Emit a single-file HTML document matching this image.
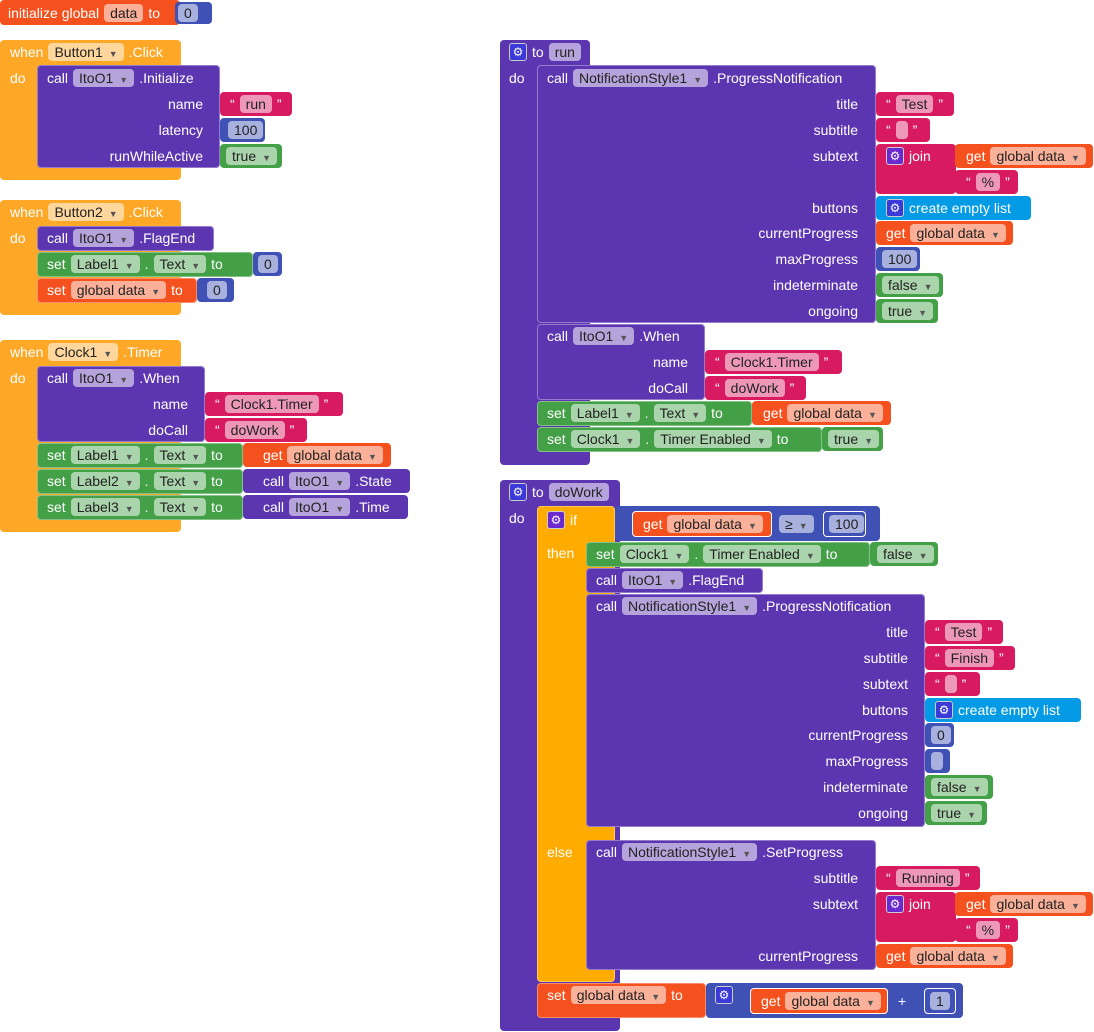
<!DOCTYPE html>
<html><head><meta charset="utf-8"><style>
body{margin:0;width:1094px;height:1032px;background:#fff;position:relative;overflow:hidden;font-family:"Liberation Sans",sans-serif}
.b{position:absolute;border-radius:4px}
.o{background:#ffa726}.y{background:#ffab00}.p{background:#5c35b0}.g{background:#43a047}.r{background:#f4511e}.k{background:#d81b60}.u{background:#3f51b5}.c{background:#039be5}
.i{box-shadow:inset 0 0 0 1px rgba(255,255,255,.35)}
.w{position:absolute;height:24px;display:flex;align-items:center;gap:5px;font-size:14px;color:#fff;white-space:nowrap}
.f{background:rgba(255,255,255,.55);color:#222;border-radius:4px;padding:0 6px;height:18px;line-height:18px;display:inline-block}
.f i{font-style:normal;font-size:9px;color:#555;margin-left:6px}
.R{position:absolute;width:220px;text-align:right;font-size:14px;color:#fff;height:24px;line-height:24px;white-space:nowrap}
.gr{display:inline-block;width:16px;height:16px;border:1px solid #ccc;border-radius:3px;background:#3a3ad8;color:#fff;font-size:12px;line-height:16px;text-align:center}
</style></head><body>

<!-- init global -->
<div class="b r" style="left:0;top:0;width:180px;height:25px"></div>
<div class="b u" style="left:175px;top:2px;width:37px;height:22px"></div>
<div class="w" style="left:8px;top:1px">initialize global <span class="f">data</span> to <span style="width:8px"></span><span class="f">0</span></div>

<!-- Button1 -->
<div class="b o" style="left:0;top:40px;width:181px;height:140px"></div>
<div class="w" style="left:10px;top:40px">when <span class="f">Button1<i>▼</i></span> .Click</div>
<div class="w" style="left:10px;top:66px">do</div>
<div class="b p i" style="left:37px;top:65px;width:183px;height:103px"></div>
<div class="w" style="left:47px;top:66px">call <span class="f">ItoO1<i>▼</i></span> .Initialize</div>
<div class="R" style="left:-17px;top:92px">name</div>
<div class="R" style="left:-17px;top:118px">latency</div>
<div class="R" style="left:-17px;top:144px">runWhileActive</div>
<div class="b k" style="left:220px;top:92px;width:72px;height:24px"></div>
<div class="w" style="left:230px;top:92px">“<span class="f">run</span>”</div>
<div class="b u" style="left:220px;top:118px;width:45px;height:24px"></div>
<div class="w" style="left:228px;top:118px"><span class="f">100</span></div>
<div class="b g" style="left:220px;top:144px;width:62px;height:24px"></div>
<div class="w" style="left:226px;top:144px"><span class="f">true<i>▼</i></span></div>

<!-- Button2 -->
<div class="b o" style="left:0;top:200px;width:181px;height:115px"></div>
<div class="w" style="left:10px;top:200px">when <span class="f">Button2<i>▼</i></span> .Click</div>
<div class="w" style="left:10px;top:226px">do</div>
<div class="b p i" style="left:37px;top:226px;width:177px;height:25px"></div>
<div class="w" style="left:47px;top:226px">call <span class="f">ItoO1<i>▼</i></span> .FlagEnd</div>
<div class="b g i" style="left:37px;top:252px;width:216px;height:25px"></div>
<div class="w" style="left:47px;top:252px">set <span class="f">Label1<i>▼</i></span> . <span class="f">Text<i>▼</i></span> to</div>
<div class="b u" style="left:253px;top:252px;width:29px;height:24px"></div>
<div class="w" style="left:258px;top:252px"><span class="f">0</span></div>
<div class="b r i" style="left:37px;top:278px;width:160px;height:25px"></div>
<div class="w" style="left:47px;top:278px">set <span class="f">global data<i>▼</i></span> to</div>
<div class="b u" style="left:197px;top:278px;width:37px;height:24px"></div>
<div class="w" style="left:207px;top:278px"><span class="f">0</span></div>

<!-- Clock1 -->
<div class="b o" style="left:0;top:340px;width:181px;height:192px"></div>
<div class="w" style="left:10px;top:340px">when <span class="f">Clock1<i>▼</i></span> .Timer</div>
<div class="w" style="left:10px;top:366px">do</div>
<div class="b p i" style="left:37px;top:366px;width:168px;height:76px"></div>
<div class="w" style="left:47px;top:366px">call <span class="f">ItoO1<i>▼</i></span> .When</div>
<div class="R" style="left:-32px;top:392px">name</div>
<div class="R" style="left:-32px;top:418px">doCall</div>
<div class="b k" style="left:205px;top:392px;width:138px;height:24px"></div>
<div class="w" style="left:215px;top:392px">“<span class="f">Clock1.Timer</span>”</div>
<div class="b k" style="left:205px;top:418px;width:102px;height:24px"></div>
<div class="w" style="left:215px;top:418px">“<span class="f">doWork</span>”</div>
<div class="b g i" style="left:37px;top:443px;width:206px;height:25px"></div>
<div class="w" style="left:47px;top:443px">set <span class="f">Label1<i>▼</i></span> . <span class="f">Text<i>▼</i></span> to</div>
<div class="b r" style="left:243px;top:443px;width:148px;height:24px"></div>
<div class="w" style="left:263px;top:443px">get <span class="f">global data<i>▼</i></span></div>
<div class="b g i" style="left:37px;top:469px;width:206px;height:25px"></div>
<div class="w" style="left:47px;top:469px">set <span class="f">Label2<i>▼</i></span> . <span class="f">Text<i>▼</i></span> to</div>
<div class="b p" style="left:243px;top:469px;width:167px;height:24px"></div>
<div class="w" style="left:263px;top:469px">call <span class="f">ItoO1<i>▼</i></span> .State</div>
<div class="b g i" style="left:37px;top:495px;width:206px;height:25px"></div>
<div class="w" style="left:47px;top:495px">set <span class="f">Label3<i>▼</i></span> . <span class="f">Text<i>▼</i></span> to</div>
<div class="b p" style="left:243px;top:495px;width:165px;height:24px"></div>
<div class="w" style="left:263px;top:495px">call <span class="f">ItoO1<i>▼</i></span> .Time</div>

<!-- to run -->
<div class="b p" style="left:500px;top:40px;width:90px;height:425px"></div>
<div class="w" style="left:509px;top:40px"><span class="gr">⚙</span> to <span class="f">run</span></div>
<div class="w" style="left:509px;top:66px">do</div>
<div class="b p i" style="left:537px;top:65px;width:339px;height:258px"></div>
<div class="w" style="left:547px;top:66px">call <span class="f">NotificationStyle1<i>▼</i></span> .ProgressNotification</div>
<div class="R" style="left:638px;top:92px">title</div>
<div class="R" style="left:638px;top:118px">subtitle</div>
<div class="R" style="left:638px;top:144px">subtext</div>
<div class="R" style="left:638px;top:196px">buttons</div>
<div class="R" style="left:638px;top:221px">currentProgress</div>
<div class="R" style="left:638px;top:247px">maxProgress</div>
<div class="R" style="left:638px;top:273px">indeterminate</div>
<div class="R" style="left:638px;top:299px">ongoing</div>
<div class="b k" style="left:876px;top:92px;width:78px;height:24px"></div>
<div class="w" style="left:886px;top:92px">“<span class="f">Test</span>”</div>
<div class="b k" style="left:876px;top:118px;width:54px;height:24px"></div>
<div class="w" style="left:886px;top:118px">“<span class="f"></span>”</div>
<div class="b k" style="left:876px;top:144px;width:80px;height:50px"></div>
<div class="w" style="left:886px;top:144px"><span class="gr" style="background:#6a2ad0">⚙</span> join</div>
<div class="b r" style="left:955px;top:144px;width:138px;height:24px"></div>
<div class="w" style="left:966px;top:144px">get <span class="f">global data<i>▼</i></span></div>
<div class="b k" style="left:955px;top:170px;width:63px;height:24px"></div>
<div class="w" style="left:966px;top:170px">“<span class="f">%</span>”</div>
<div class="b c" style="left:876px;top:196px;width:155px;height:24px"></div>
<div class="w" style="left:886px;top:196px"><span class="gr">⚙</span> create empty list</div>
<div class="b r" style="left:876px;top:221px;width:137px;height:24px"></div>
<div class="w" style="left:886px;top:221px">get <span class="f">global data<i>▼</i></span></div>
<div class="b u" style="left:876px;top:247px;width:44px;height:24px"></div>
<div class="w" style="left:882px;top:247px"><span class="f">100</span></div>
<div class="b g" style="left:876px;top:273px;width:67px;height:24px"></div>
<div class="w" style="left:882px;top:273px"><span class="f">false<i>▼</i></span></div>
<div class="b g" style="left:876px;top:299px;width:62px;height:24px"></div>
<div class="w" style="left:882px;top:299px"><span class="f">true<i>▼</i></span></div>
<div class="b p i" style="left:537px;top:324px;width:168px;height:76px"></div>
<div class="w" style="left:547px;top:324px">call <span class="f">ItoO1<i>▼</i></span> .When</div>
<div class="R" style="left:468px;top:350px">name</div>
<div class="R" style="left:468px;top:376px">doCall</div>
<div class="b k" style="left:705px;top:350px;width:137px;height:24px"></div>
<div class="w" style="left:715px;top:350px">“<span class="f">Clock1.Timer</span>”</div>
<div class="b k" style="left:705px;top:376px;width:101px;height:24px"></div>
<div class="w" style="left:715px;top:376px">“<span class="f">doWork</span>”</div>
<div class="b g i" style="left:537px;top:401px;width:215px;height:25px"></div>
<div class="w" style="left:547px;top:401px">set <span class="f">Label1<i>▼</i></span> . <span class="f">Text<i>▼</i></span> to</div>
<div class="b r" style="left:752px;top:401px;width:139px;height:24px"></div>
<div class="w" style="left:763px;top:401px">get <span class="f">global data<i>▼</i></span></div>
<div class="b g i" style="left:537px;top:427px;width:285px;height:25px"></div>
<div class="w" style="left:547px;top:427px">set <span class="f">Clock1<i>▼</i></span> . <span class="f">Timer Enabled<i>▼</i></span> to</div>
<div class="b g" style="left:822px;top:427px;width:61px;height:24px"></div>
<div class="w" style="left:828px;top:427px"><span class="f">true<i>▼</i></span></div>

<!-- to doWork -->
<div class="b p" style="left:500px;top:480px;width:120px;height:551px"></div>
<div class="w" style="left:509px;top:480px"><span class="gr">⚙</span> to <span class="f">doWork</span></div>
<div class="w" style="left:509px;top:506px">do</div>
<div class="b y i" style="left:537px;top:506px;width:78px;height:476px"></div>
<div class="w" style="left:547px;top:508px"><span class="gr" style="background:#6a2ad0">⚙</span> if</div>
<div class="b u" style="left:615px;top:506px;width:265px;height:35px"></div>
<div class="b r" style="left:632px;top:511px;width:140px;height:26px;box-shadow:inset 0 0 0 1px #fff"></div>
<div class="w" style="left:643px;top:512px">get <span class="f">global data<i>▼</i></span></div>
<div class="w" style="left:779px;top:512px"><span class="f">≥<i>▼</i></span></div>
<div class="b u" style="left:823px;top:511px;width:43px;height:26px;box-shadow:inset 0 0 0 1px #fff"></div>
<div class="w" style="left:829px;top:512px"><span class="f">100</span></div>
<div class="w" style="left:547px;top:541px">then</div>
<div class="b g i" style="left:586px;top:542px;width:284px;height:25px"></div>
<div class="w" style="left:596px;top:542px">set <span class="f">Clock1<i>▼</i></span> . <span class="f">Timer Enabled<i>▼</i></span> to</div>
<div class="b g" style="left:870px;top:542px;width:68px;height:24px"></div>
<div class="w" style="left:877px;top:542px"><span class="f">false<i>▼</i></span></div>
<div class="b p i" style="left:586px;top:568px;width:177px;height:25px"></div>
<div class="w" style="left:596px;top:568px">call <span class="f">ItoO1<i>▼</i></span> .FlagEnd</div>
<div class="b p i" style="left:586px;top:594px;width:339px;height:233px"></div>
<div class="w" style="left:596px;top:594px">call <span class="f">NotificationStyle1<i>▼</i></span> .ProgressNotification</div>
<div class="R" style="left:688px;top:620px">title</div>
<div class="R" style="left:688px;top:646px">subtitle</div>
<div class="R" style="left:688px;top:672px">subtext</div>
<div class="R" style="left:688px;top:698px">buttons</div>
<div class="R" style="left:688px;top:723px">currentProgress</div>
<div class="R" style="left:688px;top:749px">maxProgress</div>
<div class="R" style="left:688px;top:775px">indeterminate</div>
<div class="R" style="left:688px;top:801px">ongoing</div>
<div class="b k" style="left:925px;top:620px;width:78px;height:24px"></div>
<div class="w" style="left:935px;top:620px">“<span class="f">Test</span>”</div>
<div class="b k" style="left:925px;top:646px;width:90px;height:24px"></div>
<div class="w" style="left:935px;top:646px">“<span class="f">Finish</span>”</div>
<div class="b k" style="left:925px;top:672px;width:55px;height:24px"></div>
<div class="w" style="left:935px;top:672px">“<span class="f"></span>”</div>
<div class="b c" style="left:925px;top:698px;width:156px;height:24px"></div>
<div class="w" style="left:935px;top:698px"><span class="gr">⚙</span> create empty list</div>
<div class="b u" style="left:925px;top:723px;width:29px;height:24px"></div>
<div class="w" style="left:931px;top:723px"><span class="f">0</span></div>
<div class="b u" style="left:925px;top:749px;width:25px;height:24px"></div>
<div class="w" style="left:931px;top:749px"><span class="f"></span></div>
<div class="b g" style="left:925px;top:775px;width:68px;height:24px"></div>
<div class="w" style="left:931px;top:775px"><span class="f">false<i>▼</i></span></div>
<div class="b g" style="left:925px;top:801px;width:62px;height:24px"></div>
<div class="w" style="left:931px;top:801px"><span class="f">true<i>▼</i></span></div>
<div class="w" style="left:547px;top:840px">else</div>
<div class="b p i" style="left:586px;top:840px;width:290px;height:130px"></div>
<div class="w" style="left:596px;top:840px">call <span class="f">NotificationStyle1<i>▼</i></span> .SetProgress</div>
<div class="R" style="left:638px;top:866px">subtitle</div>
<div class="R" style="left:638px;top:892px">subtext</div>
<div class="R" style="left:638px;top:944px">currentProgress</div>
<div class="b k" style="left:876px;top:866px;width:104px;height:24px"></div>
<div class="w" style="left:886px;top:866px">“<span class="f">Running</span>”</div>
<div class="b k" style="left:876px;top:892px;width:80px;height:50px"></div>
<div class="w" style="left:886px;top:892px"><span class="gr" style="background:#6a2ad0">⚙</span> join</div>
<div class="b r" style="left:955px;top:892px;width:138px;height:24px"></div>
<div class="w" style="left:966px;top:892px">get <span class="f">global data<i>▼</i></span></div>
<div class="b k" style="left:955px;top:918px;width:63px;height:24px"></div>
<div class="w" style="left:966px;top:918px">“<span class="f">%</span>”</div>
<div class="b r" style="left:876px;top:944px;width:137px;height:24px"></div>
<div class="w" style="left:886px;top:944px">get <span class="f">global data<i>▼</i></span></div>
<div class="b r i" style="left:537px;top:983px;width:169px;height:35px"></div>
<div class="w" style="left:547px;top:983px">set <span class="f">global data<i>▼</i></span> to</div>
<div class="b u" style="left:706px;top:983px;width:257px;height:35px"></div>
<div class="w" style="left:715px;top:983px"><span class="gr">⚙</span></div>
<div class="b r" style="left:750px;top:988px;width:138px;height:26px;box-shadow:inset 0 0 0 1px #fff"></div>
<div class="w" style="left:761px;top:989px">get <span class="f">global data<i>▼</i></span></div>
<div class="w" style="left:898px;top:989px">+</div>
<div class="b u" style="left:924px;top:988px;width:32px;height:26px;box-shadow:inset 0 0 0 1px #fff"></div>
<div class="w" style="left:930px;top:989px"><span class="f">1</span></div>
</body></html>
